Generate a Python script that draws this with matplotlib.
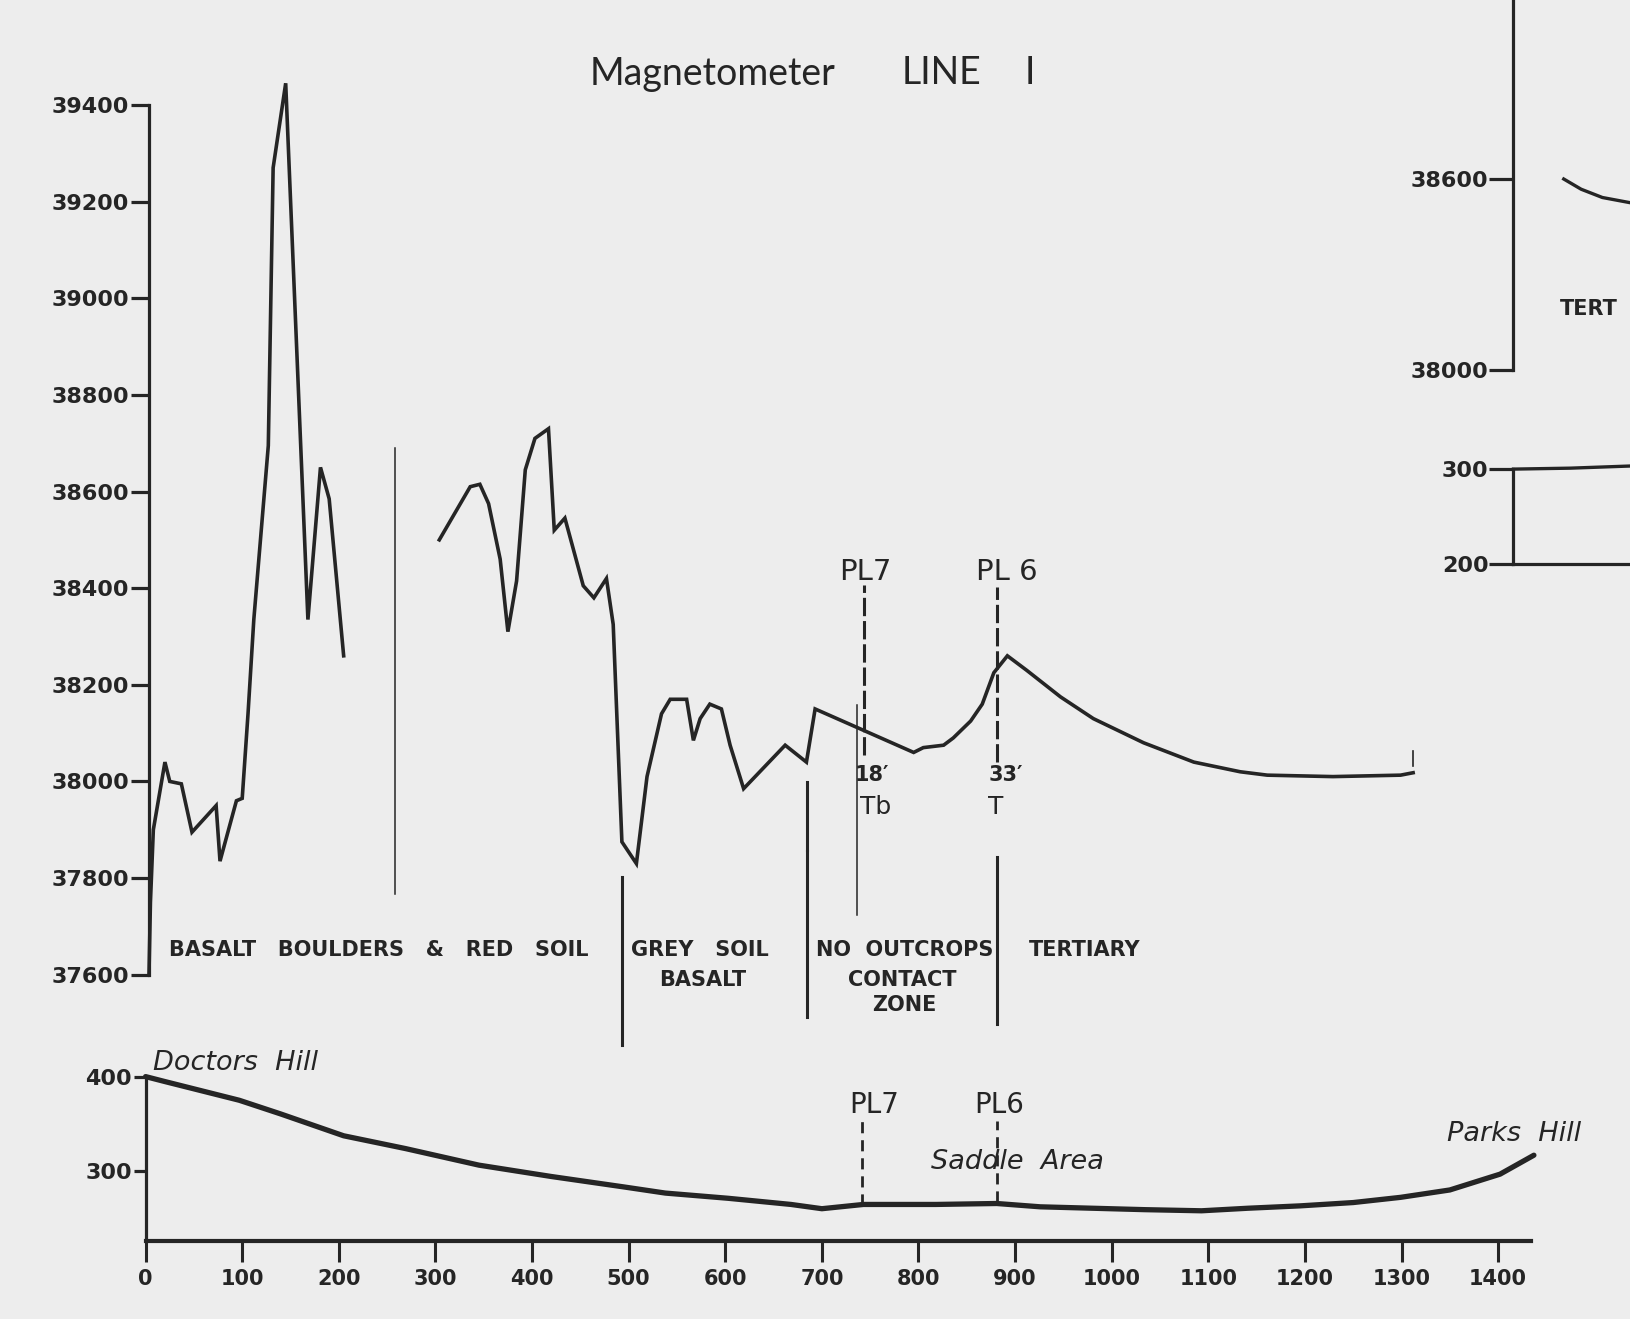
import matplotlib
matplotlib.use("Agg")
import matplotlib.pyplot as plt

W, H = 1631, 1319
ink = "#252525"
paper = "#ededed"

# magnetometer readings, line 1 (gammas) - the trace is drawn in two pieces
mag_x1 = [3.5, 5, 8, 20, 25, 37, 48, 73, 77, 94, 100, 106, 112, 127, 132, 145, 168, 181, 190, 205]
mag_y1 = [37600, 37750, 37900, 38040, 38000, 37995, 37895, 37950, 37835, 37960, 37965, 38140,
          38335, 38695, 39270, 39445, 38335, 38650, 38585, 38260]

mag_x2 = [304, 336, 346, 355, 367, 375, 384, 393, 403, 417, 423, 434, 453, 464, 477, 484, 493,
          508, 519, 534, 543, 560, 567, 574, 584, 596, 605, 619, 662, 684, 693, 795, 805, 826,
          836, 854, 866, 878, 892, 912, 947, 981, 1033, 1085, 1133, 1161, 1229, 1299, 1312]
mag_y2 = [38500, 38610, 38615, 38575, 38460, 38310, 38415, 38645, 38710, 38730, 38520, 38545,
          38405, 38380, 38420, 38325, 37875, 37830, 38010, 38140, 38170, 38170, 38085, 38130,
          38160, 38150, 38075, 37985, 38075, 38040, 38150, 38060, 38070, 38075, 38090, 38125,
          38160, 38225, 38260, 38230, 38175, 38130, 38080, 38040, 38020, 38013, 38010, 38013, 38018]

# ground profile (feet)
topo_x = [0, 21, 97, 140, 205, 269, 345, 420, 495, 538, 603, 668, 700, 743, 818, 881, 926,
          1034, 1093, 1141, 1195, 1250, 1299, 1350, 1402, 1437]
topo_y = [400, 394.5, 375, 360.5, 337.5, 324, 306.5, 294.5, 283.5, 277, 271.5, 265, 260.5,
          265, 265, 266, 262.5, 259.5, 258.3, 261, 263.5, 267, 272.5, 280.3, 297, 317]

# neighbouring sheet, cut by the right edge
next_mag_x = [52, 70, 92, 122]
next_mag_y = [38600, 38568, 38542, 38525]
next_topo_x = [0, 59, 122]
next_topo_y = [300, 301, 303.3]

mag_ticks = list(range(37600, 39401, 200))
topo_ticks = [300, 400]
dist_ticks = list(range(0, 1401, 100))

pl7, pl6 = 743.5, 881

plt.rcParams["font.family"] = ["DejaVu Sans"]
fig = plt.figure(figsize=(W / 100, H / 100), dpi=100, facecolor=paper)


def px_axes(x0, y0, x1, y1):
    # place an axes from pixel edges (y measured from the top)
    ax = fig.add_axes([x0 / W, 1 - y1 / H, (x1 - x0) / W, (y1 - y0) / H])
    ax.set_facecolor("none")
    for s in ax.spines.values():
        s.set_visible(False)
    return ax


tick_font = dict(fontsize=16, fontweight="bold", color=ink)

# ---- magnetometer panel
ax = px_axes(148.7, 105, 1531, 974.7)
ax.set_xlim(3.2, 1434)
ax.set_ylim(37600, 39400)
ax.spines["left"].set_visible(True)
ax.spines["left"].set_linewidth(2.3)
ax.spines["left"].set_color(ink)
ax.set_xticks([])
ax.set_yticks(mag_ticks)
ax.set_yticklabels([str(t) for t in mag_ticks], **tick_font)
ax.tick_params(axis="y", length=13, width=2.3, color=ink, pad=1)

ax.plot(mag_x1, mag_y1, color=ink, lw=2.6, solid_joinstyle="miter", clip_on=False)
ax.plot(mag_x2, mag_y2, color=ink, lw=2.6, solid_joinstyle="miter", clip_on=False)
ax.plot([1311.8, 1311.8], [38031, 38062], color=ink, lw=1.2)

# boundary lines
ax.plot([258.2, 258.2], [37768, 38691], color=ink, lw=1.1, clip_on=False)
ax.plot([493.1, 493.1], [37455, 37803], color=ink, lw=2.2, clip_on=False)
ax.plot([684.2, 684.2], [37858, 37999], color=ink, lw=2.2, clip_on=False)
ax.plot([684.2, 684.2], [37513, 37856], color=ink, lw=2.2, clip_on=False)
ax.plot([736.2, 736.2], [37724, 38158], color=ink, lw=1.1, clip_on=False)
ax.plot([pl7, pl7], [38055, 38407], color=ink, lw=2.2, ls=(0, (6, 1.6)))
ax.plot([pl6, pl6], [38041, 38403], color=ink, lw=2.2, ls=(0, (6, 1.6)))
ax.plot([pl6, pl6], [37497, 37844], color=ink, lw=2.2, clip_on=False)

ax.text(744.8, 38434, "PL7", fontsize=21, color=ink, ha="center", va="center")
ax.text(891.5, 38434, "PL 6", fontsize=21, color=ink, ha="center", va="center")
ax.text(752, 38013, "18\u2032", fontsize=15, fontweight="bold", color=ink, ha="center", va="center")
ax.text(756, 37948, "Tb", fontsize=18, color=ink, ha="center", va="center")
ax.text(890, 38013, "33\u2032", fontsize=15, fontweight="bold", color=ink, ha="center", va="center")
ax.text(880, 37948, "T", fontsize=18, color=ink, ha="center", va="center")

zone_font = dict(fontsize=15, fontweight="bold", color=ink, ha="center", va="center",
                 clip_on=False)
ax.text(241, 37652, "BASALT   BOULDERS   &   RED   SOIL", **zone_font)
ax.text(574, 37652, "GREY   SOIL", **zone_font)
ax.text(577, 37589, "BASALT", **zone_font)
ax.text(786, 37652, "NO  OUTCROPS", **zone_font)
ax.text(783, 37589, "CONTACT", **zone_font)
ax.text(785, 37538, "ZONE", **zone_font)
ax.text(972, 37652, "TERTIARY", **zone_font)

title_font = dict(fontsize=27, fontweight="normal", color=ink, ha="center", va="center",
                  family=["Lato", "DejaVu Sans"])
fig.text(713 / W, 1 - 73.5 / H, "Magnetometer", **title_font)
fig.text(942 / W, 1 - 73.5 / H, "LINE", **title_font)
fig.text(1030 / W, 1 - 73.5 / H, "I", **title_font)

# ---- ground profile panel
bx = px_axes(145.6, 1076.6, 1531, 1241)
bx.set_xlim(0, 1434)
bx.set_ylim(226.4, 400)
for s in ("left", "bottom"):
    bx.spines[s].set_visible(True)
    bx.spines[s].set_color(ink)
bx.spines["left"].set_linewidth(2.3)
bx.spines["bottom"].set_linewidth(3)
bx.set_yticks(topo_ticks)
bx.set_yticklabels([str(t) for t in topo_ticks], **tick_font)
bx.set_xticks(dist_ticks)
bx.set_xticklabels([str(t) for t in dist_ticks], fontsize=15, fontweight="bold", color=ink)
bx.tick_params(axis="y", length=9, width=2.3, color=ink, pad=1)
bx.tick_params(axis="x", length=15, width=2.2, color=ink, pad=5)

bx.plot(topo_x, topo_y, color=ink, lw=3.8, solid_capstyle="round", clip_on=False)
bx.plot([742, 742], [264.9, 352.8], color=ink, lw=2, ls=(0, (4, 2.5)))
bx.plot([881, 881], [268, 352.8], color=ink, lw=2, ls=(0, (4, 2.5)))

it_font = dict(fontsize=19.5, color=ink, style="italic", ha="center", va="center", clip_on=False)
bx.text(93, 414.4, "Doctors  Hill", **it_font)
bx.text(902, 309.9, "Saddle  Area", **it_font)
bx.text(1416, 339.6, "Parks  Hill", **it_font)
bx.text(754, 370.3, "PL7", fontsize=20, color=ink, ha="center", va="center")
bx.text(884, 370.3, "PL6", fontsize=20, color=ink, ha="center", va="center")

# ---- next sheet, cut by the right edge
rx = px_axes(1513.5, 0, 1913.5, 370.3)
rx.set_xlim(0, 414)
rx.set_ylim(38000, 39161.5)
rx.spines["left"].set_visible(True)
rx.spines["left"].set_linewidth(2.3)
rx.spines["left"].set_color(ink)
rx.set_xticks([])
rx.set_yticks([38000, 38600])
rx.set_yticklabels(["38000", "38600"], **tick_font)
rx.tick_params(axis="y", length=17, width=2.3, color=ink, pad=1)
rx.plot(next_mag_x, next_mag_y, color=ink, lw=2.4)
rx.text(48, 38192, "TERT", fontsize=15, fontweight="bold", color=ink, ha="left", va="center")

qx = px_axes(1513.5, 469.1, 1913.5, 563.8)
qx.set_xlim(0, 414)
qx.set_ylim(200, 300)
for s in ("left", "bottom"):
    qx.spines[s].set_visible(True)
    qx.spines[s].set_color(ink)
    qx.spines[s].set_linewidth(2.3)
qx.set_xticks([])
qx.set_yticks([200, 300])
qx.set_yticklabels(["200", "300"], **tick_font)
qx.tick_params(axis="y", length=17, width=2.3, color=ink, pad=1)
qx.plot(next_topo_x, next_topo_y, color=ink, lw=2.4, clip_on=False)

fig.savefig("out.png", dpi=100, facecolor=paper)
